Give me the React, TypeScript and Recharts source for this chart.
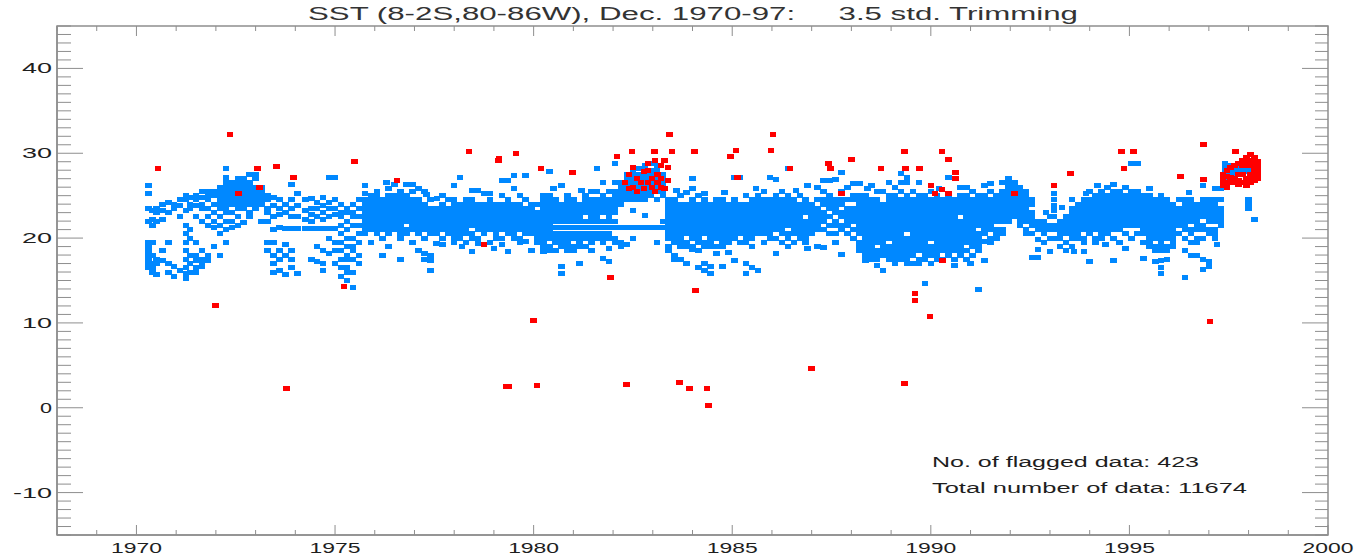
import React from 'react';
import { ScatterChart, Scatter, XAxis, YAxis, ReferenceArea } from 'recharts';

// tick positions (minor every 1, labels on the major ones)
const xTicks = [1968, 1969, 1970, 1971, 1972, 1973, 1974, 1975, 1976, 1977, 1978, 1979, 1980, 1981, 1982, 1983, 1984, 1985, 1986, 1987, 1988, 1989, 1990, 1991, 1992, 1993, 1994, 1995, 1996, 1997, 1998, 1999, 2000];
const xLabels = [1970, 1975, 1980, 1985, 1990, 1995, 2000];
const yTicks = [-15, -14, -13, -12, -11, -10, -9, -8, -7, -6, -5, -4, -3, -2, -1, 0, 1, 2, 3, 4, 5, 6, 7, 8, 9, 10, 11, 12, 13, 14, 15, 16, 17, 18, 19, 20, 21, 22, 23, 24, 25, 26, 27, 28, 29, 30, 31, 32, 33, 34, 35, 36, 37, 38, 39, 40, 41, 42, 43, 44, 45];
const yLabels = [-10, 0, 10, 20, 30, 40];

const blueEarly70s: [number, number[]][] = [
  [1970.30, [26.2, 25.2, 23.5, 22, 19.5, 19, 18.5, 18, 17.5, 17, 16.5]],
  [1970.40, [23.3, 22.2, 21.5, 19.5, 18, 17, 16.5, 16]],
  [1970.50, [23.5, 23, 22, 17.5, 17, 15.7]],
  [1970.65, [24, 23.3, 22.2, 18.5, 17.3]],
  [1970.80, [24.2, 23, 19.5, 17, 16]],
  [1970.95, [24, 23.5, 16.7, 15.5]],
  [1971.10, [24.5, 23.8, 22.5, 16.2]],
  [1971.25, [25, 24.5, 23.3, 21.5, 20.5, 19.5, 18.5, 17.5, 16.5, 15.8, 15.2]],
  [1971.35, [24.8, 24, 23.5, 21, 20, 18, 17, 16]],
  [1971.50, [25, 24.5, 23.8, 22.5, 19.5, 18, 17.3, 16.5, 16]],
  [1971.65, [25.5, 24.8, 24, 23.5, 22, 18.5, 17.5, 17, 16.7]],
  [1971.80, [25.5, 25, 24.5, 23.5, 22.5, 21.5, 18, 17.3]],
  [1971.95, [25.5, 25, 24, 23, 22, 21.2, 19]],
  [1972.10, [26, 25.5, 25, 24.5, 24, 23.5, 22.5, 21.5, 20.5, 18]],
  [1972.25, [28.2, 27.2, 26.5, 26, 25.5, 25, 24.5, 24, 23.5, 23, 22, 21, 19.5]],
  [1972.40, [26.5, 26, 25.5, 25, 24.5, 24, 23, 22, 21.3]],
  [1972.55, [27, 26.5, 26, 25.5, 25, 24.5, 24, 23.5, 22.5, 21.5]],
  [1972.70, [27, 26.5, 26, 25.5, 25, 24.5, 24, 23.5, 21.8]],
  [1972.85, [27.5, 26.5, 26, 25.5, 25, 24.5, 24, 23, 22.5]],
  [1973.00, [27.5, 27, 26, 25.5, 25, 24.5, 24, 23.5]],
  [1973.15, [26, 25.5, 25, 24.5, 24, 22]],
  [1973.30, [25, 24.5, 23.5, 23, 22, 19.5, 18.5]],
  [1973.45, [24.8, 23.8, 22.5, 21, 19.5, 18, 17, 16]],
  [1973.60, [24.5, 23.5, 22.8, 21.2, 18.5, 17.5, 16.2]],
  [1973.75, [24, 23, 21.1, 19.3, 18, 15.7]],
  [1973.90, [26.3, 24.5, 23.5, 22.5, 21.1, 18.5, 17.5, 16.5]],
  [1974.05, [25.2, 23.8, 22.5, 21.1, 15.8]],
  [1974.25, [24.5, 23.2, 22.2, 21.1]],
  [1974.40, [24.7, 23.5, 22.8, 22, 21.1, 17.5]],
  [1974.55, [24.2, 23.5, 22.5, 21.1, 19, 17.2]],
  [1974.70, [24.8, 23.8, 23, 22.2, 21.1, 18.5, 17, 16.2]],
  [1974.85, [27.2, 24.2, 23.5, 22.5, 21.1, 20, 18.2]],
  [1975.00, [27.2, 24.5, 23.5, 22.8, 21.1, 19.5, 18.5, 17]],
  [1975.15, [24, 23, 22.5, 21.5, 20.5, 19.5, 18.5, 17.5, 16.5, 15.5]],
  [1975.30, [23.5, 23, 22, 21, 20, 19, 18, 17.5, 16.5, 16, 15]],
  [1975.45, [24, 23, 22.5, 21.5, 20, 19, 18.5, 17.5, 16, 14.2]],
  [1975.60, [24.5, 23.5, 22.5, 21.5, 20.5, 19.5, 18, 17]],
];

const blueLate70s: [number, number[]][] = [
  [1975.75, [26.2, 25.3, 24.5, 24, 23.5, 23, 22.5, 22, 21.5, 21, 20.5]],
  [1975.90, [25, 24.5, 24, 23.5, 23, 22.5, 22, 21.5, 21, 19.5]],
  [1976.05, [25.5, 25, 24.5, 24, 23.5, 23, 22.5, 22, 21.5, 21, 20.5]],
  [1976.20, [24.5, 24, 23.5, 23, 22.5, 22, 21.5, 21, 20, 18]],
  [1976.35, [25.8, 25, 24.5, 24, 23.5, 23, 22.5, 22, 21.5, 21, 20.5, 19]],
  [1976.50, [26.3, 25, 24.5, 24, 23.5, 23, 22.5, 22, 21.5, 21]],
  [1976.65, [25.5, 25, 24.5, 24, 23.5, 23, 22.5, 22, 21.5, 21, 20.5, 20, 17.5]],
  [1976.80, [26.3, 25, 24.5, 24, 23.5, 23, 22.5, 22, 21, 20.5]],
  [1976.95, [26.3, 25.5, 24.5, 24, 23.5, 23, 22.5, 22, 21.5, 21, 19.5]],
  [1977.10, [25.8, 24.5, 24, 23.5, 23, 22.5, 22, 21.5, 21, 20.5, 18.5]],
  [1977.25, [25.5, 24, 23.5, 23, 22.5, 22, 21.5, 21, 20, 18.2, 17.5]],
  [1977.40, [24.5, 23.5, 23, 22.5, 22, 21.5, 21, 20.5, 18, 17.4, 16.2]],
  [1977.55, [23.5, 23, 22.5, 22, 21.5, 21, 20.5, 19.4]],
  [1977.70, [25, 24, 23.5, 23, 22.5, 22, 21.5, 21, 20]],
  [1977.85, [24.5, 23.5, 23, 22.5, 22, 21.5, 21, 20.5]],
  [1978.00, [26.2, 24.5, 24, 23.5, 23, 22.5, 22, 21.5, 21, 20.5, 20, 19.5]],
  [1978.15, [27.2, 24, 23.5, 23, 22.5, 22, 21.5, 21, 20.5, 20]],
  [1978.30, [24.5, 24, 23.5, 23, 22.5, 22, 21.5, 21, 20.5, 19.5]],
  [1978.45, [25.6, 24.5, 24, 23.5, 23, 22.5, 22, 21.5, 20.5, 20, 18.4]],
  [1978.60, [25.6, 24, 23.5, 23, 22.5, 22, 21.5, 21, 20, 19.4]],
  [1978.75, [25.2, 24, 23.5, 23, 22.5, 22, 21.5, 21, 20.5]],
  [1978.90, [24.5, 24, 23.5, 23, 22.5, 22, 21.5, 21, 19.5]],
  [1979.05, [24, 23.5, 23, 22.5, 22, 21.5, 21, 20.5, 20]],
  [1979.20, [25, 24, 23.5, 23, 22.5, 22, 21.5, 21, 20, 19.2]],
  [1979.35, [26.8, 24.5, 24, 23.5, 23, 22.5, 22, 21.5, 21, 20.5, 18.4]],
  [1979.50, [27.4, 25.8, 24, 23.5, 23, 22.5, 22, 21.5, 21, 20.5, 20]],
  [1979.65, [25, 24, 23.5, 23, 22.5, 22, 21.5, 21, 20, 19.5]],
  [1979.80, [27.4, 24.5, 23.5, 23, 22.5, 22, 21.5, 21, 20.5, 19.6]],
  [1979.95, [24, 23.5, 23, 22.5, 22, 21.5, 21, 20.5, 18.5]],
  [1980.10, [24, 23, 22.5, 22, 21.5, 21, 20.5, 20, 19.5]],
];

const blueEarly80s: [number, number[]][] = [
  [1980.25, [25, 24.5, 24, 23.5, 23, 22.5, 22, 21.5, 21, 20.5, 20, 19.5, 19, 18.4]],
  [1980.40, [27.9, 25, 24.5, 24, 23.5, 23, 22.5, 22, 21.5, 21, 20.5, 20, 19, 18.5]],
  [1980.55, [24.5, 24, 23.5, 23, 22.5, 22, 21.2, 20.5, 20, 19.5, 18.5]],
  [1980.70, [26.2, 24, 23.5, 23, 22.5, 22, 21.2, 20.5, 20, 19.5, 19, 16.6, 15.8]],
  [1980.85, [25, 24.5, 24, 23.5, 23, 22.5, 22, 21.2, 20.5, 20, 19.5, 19, 18.5]],
  [1981.00, [24.5, 24, 23.5, 23, 22.5, 22, 21.2, 20.5, 20, 19, 18.5]],
  [1981.15, [24, 23.5, 23, 22.5, 22, 21.2, 20.5, 20, 19.5, 19, 17]],
  [1981.30, [25, 24.5, 24, 23.5, 23, 22, 21.2, 20.5, 20, 19]],
  [1981.45, [25.5, 24.5, 24, 23.5, 23, 22.5, 22, 21.2, 20.5, 20, 19.5, 18.5]],
  [1981.60, [28.2, 25.5, 24.5, 24, 23.5, 23, 22.5, 22, 21.2, 20.5, 20]],
  [1981.75, [26.5, 25, 24.5, 24, 23.5, 23, 22, 21.2, 20.5, 20, 19.5, 17.6]],
  [1981.90, [25.5, 24.5, 24, 23.5, 23, 22.5, 22, 21.2, 20.5, 20, 18.8, 17.2]],
  [1982.05, [28.8, 26.5, 25.5, 25, 24.5, 24, 23.5, 23, 22, 21.2, 20, 19.5]],
  [1982.20, [26.5, 26, 25.5, 25, 24.5, 24, 21.2, 19.5, 19]],
  [1982.35, [27.5, 27, 26.5, 26, 25.5, 25, 24.5, 21.2, 19.2]],
  [1982.50, [28, 27.5, 27, 26.5, 26, 25.5, 25, 24.5, 23.3, 21.2, 20]],
  [1982.65, [28.2, 27.5, 27, 26.5, 26, 25.5, 25, 24.5, 21.2]],
  [1982.80, [28.5, 28, 27.5, 27, 26.5, 26, 25.5, 25, 24.5, 22.7, 21.2]],
  [1982.95, [28.8, 28, 27.5, 27, 26.5, 26, 25.5, 25, 21.2]],
  [1983.10, [28.5, 28, 27.5, 27, 26.5, 26, 25.5, 24.5, 21.2, 19.5]],
  [1983.25, [27.5, 27, 26.5, 26, 25.5, 25, 22, 21.2]],
  [1983.40, [24.5, 24, 23.5, 23, 22.5, 22, 21.5, 21, 20.5, 20, 19, 18.5]],
  [1983.55, [24.5, 24, 23.5, 23, 22.5, 22, 21.5, 21, 20.5, 20, 19.5, 18, 17.5]],
  [1983.70, [25, 24, 23.5, 23, 22.5, 22, 21.5, 21, 20.5, 20, 19.5, 19, 17.5]],
  [1983.85, [25.4, 24, 23.5, 23, 22.5, 22, 21.5, 21, 20.5, 19.5, 19, 17]],
  [1984.00, [27, 25.8, 24.5, 24, 23.5, 23, 22.5, 22, 21.5, 21, 20.5, 20, 19, 18.6]],
  [1984.15, [25, 24, 23.5, 23, 22.5, 22, 21.5, 21, 20.5, 20, 19.5, 18.5, 16.5]],
  [1984.30, [24.5, 24, 23.5, 23, 22.5, 22, 21.5, 21, 20.5, 19.5, 19, 17, 16.2]],
  [1984.45, [24, 23.5, 23, 22.5, 22, 21.5, 21, 20.5, 20, 19.5, 19, 16.6, 15.8]],
  [1984.60, [24.5, 24, 23.5, 23, 22.5, 22, 21.5, 21, 20.5, 20, 19, 18.2]],
  [1984.75, [24.5, 24, 23.5, 23, 22.5, 22, 21.5, 21, 20.5, 20, 19.5, 19, 16.6]],
  [1984.90, [24, 23.5, 23, 22.5, 22, 21.5, 21, 20.5, 20, 19.5]],
  [1985.05, [27.2, 24.5, 24, 23.5, 23, 22.5, 22, 21.5, 21, 20.5, 20, 17.4]],
  [1985.20, [27.2, 24, 23.5, 23, 22.5, 22, 21.5, 21, 20.5, 19.5]],
];

const blueLate80s: [number, number[]][] = [
  [1985.35, [25, 24, 23.5, 23, 22.5, 22, 21.5, 21, 20.5, 20, 19.5, 17, 15.8]],
  [1985.50, [24.5, 24, 23.5, 23, 22.5, 22, 21.5, 21, 20.5, 20, 19, 16.5]],
  [1985.65, [25, 24.5, 24, 23.5, 23, 22.5, 22, 21.5, 21, 20.5, 16.2]],
  [1985.80, [25.5, 24.5, 24, 23.5, 23, 22.5, 22, 21.5, 21, 20.5, 19.5]],
  [1985.95, [27.2, 24.5, 24, 23.5, 23, 22.5, 22, 21.5, 21, 20.5, 20]],
  [1986.10, [26.9, 25, 24.5, 24, 23.5, 23, 22.5, 22, 21.5, 21, 20, 18.2]],
  [1986.25, [25.5, 24.5, 24, 23.5, 23, 22.5, 22, 21.5, 21, 20.5, 19.5]],
  [1986.40, [28.2, 25, 24.5, 24, 23.5, 23, 22.5, 22, 21.5, 20.5, 20]],
  [1986.55, [24.5, 24, 23.5, 23, 22.5, 22, 21.5, 21, 20.5, 19.5]],
  [1986.70, [25, 24, 23.5, 23, 22.5, 22, 21.5, 21, 20.5, 20]],
  [1986.85, [24.5, 24, 23.5, 23, 22, 21.5, 21, 20.5, 20, 19.5]],
  [1987.00, [24, 23.5, 23, 22.5, 22, 21.5, 21, 20.5]],
  [1987.15, [26, 24.5, 23.5, 23, 22.5, 22, 21.5, 21, 19]],
  [1987.30, [26.8, 25.5, 24.5, 24, 23, 22.5, 22, 21, 18.9]],
  [1987.45, [26.8, 25, 24.5, 24, 23.5, 22.5, 21.5, 20.5]],
  [1987.60, [26.9, 24.5, 24, 23.5, 23, 22, 21.5, 20.5, 19.5]],
  [1987.75, [27.7, 25.5, 24.5, 24, 23, 22.5, 21.5, 21, 18.1]],
  [1987.90, [26, 24.5, 23.5, 23, 22.5, 22, 21.5, 20.5]],
  [1988.05, [26.4, 25, 24.5, 23.5, 23, 22.5, 22, 21, 20]],
  [1988.20, [26.4, 25, 24.5, 24, 23.5, 23, 22.5, 22, 21.5, 21, 20.5, 19.5, 19, 18.5]],
  [1988.35, [25, 24.5, 24, 23.5, 23, 22.5, 22, 21.5, 21, 20.5, 20, 19.5, 19, 18.5, 18, 17.4]],
  [1988.50, [26.2, 24.5, 24, 23.5, 23, 22.5, 22, 21.5, 21, 20.5, 20, 19.5, 19, 18.5, 18, 17.5]],
  [1988.65, [25.5, 24.5, 24, 23.5, 23, 22.5, 22, 21.5, 21, 20.5, 20, 19.5, 18.5, 18, 17.5, 16.8]],
  [1988.80, [25.5, 24, 23.5, 23, 22.5, 22, 21.5, 21, 20.5, 20, 19.5, 19, 18.5, 18, 16.2]],
  [1988.95, [26.5, 25, 24.5, 24, 23.5, 23, 22.5, 22, 21.5, 21, 20.5, 20, 19, 18.5, 18, 17.5]],
  [1989.10, [25, 24.5, 24, 23.5, 23, 22.5, 22, 21.5, 21, 20.5, 20, 19.5, 19, 18.5, 18, 17.5, 17]],
  [1989.25, [27.6, 26.6, 25.5, 24.5, 24, 23.5, 23, 22.5, 22, 21.5, 21, 20.5, 20, 19.5, 19, 18.5, 18, 17.5]],
  [1989.40, [27.2, 26.6, 25, 24.5, 24, 23.5, 23, 22.5, 22, 21.5, 21, 20, 19.5, 19, 18.5, 18, 17.5, 17]],
  [1989.55, [25.5, 24.5, 24, 23.5, 23, 22.5, 22, 21.5, 21, 20.5, 20, 19.5, 19, 18.5, 18, 17]],
  [1989.70, [26.6, 25, 24.5, 24, 23.5, 23, 22.5, 22, 21.5, 21, 20.5, 20, 19.5, 19, 18.5, 17.5, 17]],
  [1989.85, [25, 24.5, 24, 23.5, 23, 22.5, 22, 21.5, 21, 20.5, 20, 19.5, 19, 18.5, 18, 17.5, 14.7]],
  [1990.00, [25.5, 24.5, 24, 23.5, 23, 22.5, 22, 21.5, 21, 20.5, 20, 19, 18.5, 18, 17]],
  [1990.15, [25, 24.5, 24, 23.5, 23, 22.5, 22, 21.5, 21, 20.5, 20, 19.5, 19, 18.5, 18, 17.5]],
  [1990.30, [24.5, 24, 23.5, 23, 22.5, 22, 21.5, 21, 20.5, 20, 19.5, 19, 18.5, 17.5]],
  [1990.45, [27.2, 25, 24.5, 24, 23.5, 23, 22.5, 22, 21.5, 21, 20.5, 20, 19.5, 19, 18.5, 18]],
  [1990.60, [24.5, 24, 23.5, 23, 22.5, 22, 21.5, 21, 20.5, 20, 19.5, 19, 18.5, 17.5]],
  [1990.75, [26, 25, 24.5, 24, 23.5, 23, 22, 21.5, 21, 20.5, 20, 19.5, 19, 18.5, 18]],
  [1990.90, [25, 24.5, 24, 23.5, 23, 22.5, 22, 21.5, 21, 20.5, 20, 19.5, 18.5, 17.5]],
  [1991.05, [25.5, 24.5, 24, 23.5, 23, 22.5, 22, 21.5, 21, 20.5, 20, 19.5, 19, 18]],
  [1991.20, [25, 24.5, 24, 23.5, 23, 22.5, 22, 21.5, 20.5, 20, 19.5, 19, 18.5, 13.9]],
  [1991.35, [26.2, 25, 24.5, 24, 23.5, 23, 22.5, 22, 21.5, 21, 20.5, 19.6, 17.4]],
  [1991.50, [25.5, 24.5, 24, 23.5, 23, 22.5, 22, 21.5, 21, 20, 19.5]],
  [1991.65, [25, 24.5, 24, 23.5, 23, 22.5, 22, 21, 20.5, 20]],
  [1991.80, [26.6, 25.5, 25, 24.5, 24, 23.5, 23, 22.5, 22, 21, 20.5]],
];

const blue90s: [number, number[]][] = [
  [1991.95, [27, 26.5, 26, 25.5, 25, 24.5, 24, 23.5, 23, 22.5, 22]],
  [1992.10, [26.5, 26, 25.5, 25, 24.5, 24, 23.5, 23, 22.5]],
  [1992.25, [26, 25.5, 25, 24.5, 24, 23.5, 23, 22.5, 22, 21.5]],
  [1992.40, [25.5, 25, 24.5, 24, 23.5, 23, 22.5, 22, 21, 20.5]],
  [1992.55, [24.5, 24, 23, 22.5, 22, 21.5, 20.5, 17.7]],
  [1992.70, [22, 21.5, 21, 19.8, 18.6, 17.7]],
  [1992.85, [22, 21.5, 21, 20.5, 19.5]],
  [1993.00, [22.5, 21.5, 21, 20, 18.4]],
  [1993.10, [25.2, 24.5, 23.8, 23.3, 22.5, 21.5, 21, 20]],
  [1993.25, [22, 21.5, 21, 20.5, 20, 19]],
  [1993.40, [22.5, 22, 21.5, 21, 20.5, 19.5, 18.5]],
  [1993.55, [24.5, 23.5, 23, 22.5, 22, 21.5, 21, 20.5, 20, 19]],
  [1993.70, [24, 23.5, 23, 22.5, 22, 21.5, 21, 20.5, 20]],
  [1993.85, [24.5, 24, 23.5, 23, 22.5, 22, 21.5, 21, 20, 19.5, 18.4]],
  [1994.00, [25.5, 24.5, 24, 23.5, 23, 22.5, 22, 21.5, 21, 20.5, 17.2]],
  [1994.15, [25, 24.5, 24, 23.5, 23, 22.5, 22, 21.5, 21, 20, 19.5]],
  [1994.30, [25.5, 25, 24.5, 24, 23.5, 23, 22.5, 22, 21.5, 21, 20.5, 20]],
  [1994.45, [26, 25, 24.5, 24, 23.5, 23, 22.5, 22, 21.5, 21, 20.5]],
  [1994.60, [25.5, 25, 24.5, 24, 23.5, 23, 22.5, 22, 21.5, 21, 20, 17.3]],
  [1994.75, [25.5, 25, 24.5, 24, 23.5, 23, 22.5, 22, 21.5, 21, 19.5]],
  [1994.90, [26, 25, 24.5, 24, 23.5, 23, 22.5, 22, 21.5, 20.5]],
  [1995.05, [28.8, 25.5, 25, 24.5, 24, 23.5, 23, 22.5, 22, 21.5, 20]],
  [1995.20, [28.8, 25.5, 25, 24.5, 24, 23.5, 23, 22.5, 22, 21.5, 20.5]],
  [1995.35, [25, 24.5, 24, 23.5, 23, 22.5, 22, 21.5, 21, 20.5, 19.5, 17.6]],
  [1995.50, [25, 24.5, 24, 23.5, 23, 22.5, 22, 21.5, 21, 20.5, 20, 19.5, 19]],
  [1995.65, [24.5, 24, 23.5, 23, 22.5, 22, 21.5, 21, 20.5, 20, 19, 18.5, 17.2]],
  [1995.80, [25, 24.5, 24, 23.5, 23, 22.5, 22, 21.5, 21, 20.5, 20, 19.5, 19, 18.5, 17.3, 16.5, 15.8]],
  [1995.95, [24.5, 24, 23.5, 23, 22.5, 22, 21.5, 21, 20.5, 20, 19, 18.5, 17.5]],
  [1996.10, [24, 23.5, 23, 22.5, 22, 21.5, 21, 20.5, 20, 19.5, 19]],
  [1996.25, [24.5, 23.5, 23, 22.5, 22, 21.5, 20.5]],
  [1996.40, [24.5, 24, 23.5, 23, 22.5, 22, 21.5, 21, 20, 18.5, 15.3]],
  [1996.55, [24.5, 24, 23.5, 23, 22.5, 22, 21, 20.5, 19.5, 18]],
  [1996.70, [24, 23.5, 23, 22.5, 22, 21.5, 21, 20, 19.5, 18]],
  [1996.85, [26.2, 24.5, 24, 23.5, 23, 22.5, 21.5, 21, 20, 17.5, 16.3]],
  [1997.00, [24.5, 24, 23.5, 23, 22.5, 22, 21, 20.5, 17.2, 16.6]],
  [1997.15, [25.8, 24.5, 24, 23.5, 23, 22.5, 22, 21, 20.5, 20]],
  [1997.30, [25.8, 24.5, 23.5, 23, 22.5, 22, 21.5]],
  [1997.40, [28.8, 28.2, 27.6, 27]],
  [1997.55, [28.5, 28, 27.5]],
  [1997.70, [28.5, 28, 27.5]],
  [1997.85, [28.6, 28, 27.8]],
  [1998.00, [29, 28.2, 27.8, 24.5, 24, 23.5]],
  [1998.15, [28.5, 28, 27.5, 22.2]],
];

// loose blue points along the edges of the cloud
const blueEdges: [number, number][] = [
  [1976.30, 26.5], [1977.30, 25.1], [1977.56, 24.7], [1977.70, 19.3], [1978.20, 19.0],
  [1978.90, 25.3], [1979.00, 18.8], [1979.20, 26.8], [1980.50, 25.8], [1981.20, 25.6],
  [1983.60, 25.6], [1984.30, 25.2], [1984.80, 25.4], [1984.90, 18.3], [1985.60, 25.8],
  [1986.40, 19.0], [1986.60, 25.6], [1986.90, 26.2], [1986.90, 18.8], [1988.40, 25.8],
  [1989.10, 26.0], [1990.20, 25.8], [1990.60, 16.8], [1990.90, 26.0], [1991.00, 17.0],
  [1991.50, 26.4], [1992.90, 23.0], [1993.30, 23.6], [1993.60, 18.4], [1993.90, 25.2],
  [1994.20, 26.2], [1994.40, 19.2], [1994.60, 26.3], [1994.90, 18.8], [1995.50, 25.8],
  [1996.50, 25.4], [1997.20, 19.2],
];

// red = flagged by the 3.5 std trimming
const redOutliers: [number, number][] = [
  [1970.54, 28.2], [1971.99, 12.1], [1972.35, 32.2], [1972.57, 25.2], [1973.05, 28.2],
  [1973.10, 26.0], [1973.53, 28.4], [1973.78, 2.3], [1973.95, 27.2], [1975.23, 14.3],
  [1975.49, 29.0], [1976.56, 26.8], [1978.37, 30.2], [1978.75, 19.3], [1979.11, 29.1],
  [1979.13, 29.4], [1979.30, 2.5], [1979.36, 2.5], [1979.55, 30.0], [1979.99, 10.3],
  [1980.08, 2.6], [1980.18, 28.2], [1980.98, 27.7], [1981.93, 15.4], [1982.10, 29.6],
  [1982.34, 2.7], [1982.47, 30.2], [1983.04, 30.2], [1983.30, 29.2], [1983.42, 32.2],
  [1983.48, 30.2], [1983.67, 3.0], [1983.92, 2.3], [1984.05, 30.2], [1984.08, 13.8],
  [1984.36, 2.3], [1984.40, 0.25], [1984.95, 29.6], [1985.10, 30.3], [1985.13, 27.2],
  [1985.97, 30.3], [1986.03, 32.2], [1986.45, 28.2], [1987.00, 4.6], [1987.42, 28.8],
  [1987.47, 28.2], [1987.75, 25.2], [1988.00, 29.3], [1988.75, 28.2], [1989.33, 2.8],
  [1989.33, 30.2], [1989.36, 28.2], [1989.60, 13.5], [1989.60, 12.7], [1989.71, 28.2],
  [1989.98, 10.8], [1990.00, 26.2], [1990.10, 25.3], [1990.28, 30.2], [1990.28, 25.7],
  [1990.29, 17.3], [1990.45, 29.3], [1990.45, 25.2], [1990.62, 27.7], [1990.62, 27.0],
  [1992.10, 25.2], [1993.10, 26.2], [1993.52, 27.6], [1994.80, 30.2], [1994.86, 28.2],
  [1995.10, 30.2], [1996.29, 27.3], [1996.87, 31.0], [1996.87, 26.9], [1997.03, 10.2],
  [1997.67, 30.2],
];

const redCluster1983: [number, number[]][] = [
  [1982.30, [26.5]],
  [1982.40, [27.5, 25.8]],
  [1982.50, [28.3, 26]],
  [1982.60, [27, 25.5]],
  [1982.70, [26.5]],
  [1982.78, [27.8, 25.8]],
  [1982.88, [28.8, 28, 26.5]],
  [1982.98, [27, 26]],
  [1983.05, [29.2, 25.5]],
  [1983.12, [27.5, 26.5]],
  [1983.20, [28.5, 27, 26]],
  [1983.30, [25.8]],
  [1983.38, [28.3, 26.8]],
];

const redCluster1998: [number, number[]][] = [
  [1997.35, [27.5, 27, 26.5, 26.2]],
  [1997.45, [28, 27.3, 26.5, 26]],
  [1997.55, [28.3, 27.2, 26.6]],
  [1997.65, [28.5, 27, 26.5]],
  [1997.75, [28.8, 27.5, 26.8, 26.3]],
  [1997.85, [29.2, 28.5, 27.5, 26.5]],
  [1997.95, [29.5, 29, 28.5, 27, 26.5, 26.2]],
  [1998.05, [29.8, 29.2, 28.5, 27.5, 27, 26.5]],
  [1998.15, [29.5, 29, 28.3, 27.8, 27.2, 26.8]],
  [1998.22, [29, 28.5, 28, 27.5, 27]],
];

const flaggedCount = 423;
const totalCount = 11674;

const fromColumns = (cols: [number, number[]][]) =>
  cols.flatMap(([x, ys]) => ys.map((y) => ({ x, y })));

const blueData = [
  ...fromColumns(blueEarly70s),
  ...fromColumns(blueLate70s),
  ...fromColumns(blueEarly80s),
  ...fromColumns(blueLate80s),
  ...fromColumns(blue90s),
  ...blueEdges.map(([x, y]) => ({ x, y })),
];
const redData = [
  ...redOutliers.map(([x, y]) => ({ x, y })),
  ...fromColumns(redCluster1983),
  ...fromColumns(redCluster1998),
];

const W = 1359;
const H = 558;
const MARGIN = { top: 26, right: 31, bottom: 3, left: 7 };
const PLOT_W = 1271;
const PLOT_H = 509;
const AXIS_COLOR = '#8e8e8e';
const TEXT_COLOR = '#1e1e1e';
const FONT = '"Liberation Sans", Arial, sans-serif';

const Square = (props: any) => {
  const { cx, cy, fill } = props;
  if (cx == null || cy == null) return null;
  return <rect x={cx - 3.2} y={cy - 2.5} width={6.5} height={5} fill={fill} shapeRendering="crispEdges" />;
};

const XTick = (props: any) => {
  const { x, y, payload } = props;
  const axisY = y - 8;
  const major = xLabels.includes(payload.value);
  const len = major ? 10 : 5;
  return (
    <g>
      <line x1={x} x2={x} y1={axisY} y2={axisY - len} stroke={AXIS_COLOR} />
      <line x1={x} x2={x} y1={axisY - PLOT_H} y2={axisY - PLOT_H + len} stroke={AXIS_COLOR} />
      {major && (
        <text x={x} y={axisY + 18} textAnchor="middle" fontSize={14} fontFamily={FONT} fill={TEXT_COLOR}
          textLength={51} lengthAdjust="spacingAndGlyphs">
          {payload.value}
        </text>
      )}
    </g>
  );
};

const YTick = (props: any) => {
  const { x, y, payload } = props;
  const axisX = x + 5;
  const major = yLabels.includes(payload.value);
  const lenL = major ? 26 : 14;
  const lenR = major ? 26 : 13;
  const label = String(payload.value);
  const textLen = label.length === 1 ? 12 : label.length === 2 ? 30 : 39;
  return (
    <g>
      <line x1={axisX} x2={axisX + lenL} y1={y} y2={y} stroke={AXIS_COLOR} />
      <line x1={axisX + PLOT_W} x2={axisX + PLOT_W - lenR} y1={y} y2={y} stroke={AXIS_COLOR} />
      {major && (
        <text x={x} y={y + 5} textAnchor="end" fontSize={14} fontFamily={FONT} fill={TEXT_COLOR}
          textLength={textLen} lengthAdjust="spacingAndGlyphs">
          {label}
        </text>
      )}
    </g>
  );
};

export default function App() {
  return (
    <div style={{ position: 'absolute', left: 0, top: 0, width: W, height: H, background: '#fff' }}>
      <ScatterChart width={W} height={H} margin={MARGIN}>
        <XAxis type="number" dataKey="x" domain={[1968, 2000]} ticks={xTicks} interval={0}
          tickSize={0} tickMargin={8} tickLine={false} height={20}
          axisLine={{ stroke: AXIS_COLOR, strokeWidth: 1.5 }} tick={XTick} allowDataOverflow />
        <YAxis type="number" dataKey="y" domain={[-15, 45]} ticks={yTicks} interval={0}
          tickSize={0} tickMargin={5} tickLine={false} width={50}
          axisLine={{ stroke: AXIS_COLOR, strokeWidth: 1.5 }} tick={YTick} allowDataOverflow />
        <ReferenceArea x1={1968} x2={2000} y1={-15} y2={45} fill="none" stroke={AXIS_COLOR} strokeWidth={1.5} />
        <Scatter data={blueData} fill="#0088ff" shape={Square} isAnimationActive={false} />
        <Scatter data={redData} fill="#ff0000" shape={Square} isAnimationActive={false} />
      </ScatterChart>
      <svg width={W} height={H} style={{ position: 'absolute', left: 0, top: 0, pointerEvents: 'none' }}>
        <text x={308} y={20} fontSize={18} fontFamily={FONT} fill="#333" xmlSpace="preserve"
          style={{ whiteSpace: 'pre' }} textLength={770} lengthAdjust="spacingAndGlyphs">
          {'SST (8-2S,80-86W), Dec. 1970-97:     3.5 std. Trimming'}
        </text>
        <text x={932} y={467} fontSize={14} fontFamily={FONT} fill={TEXT_COLOR}
          textLength={267} lengthAdjust="spacingAndGlyphs">
          {`No. of flagged data: ${flaggedCount}`}
        </text>
        <text x={932} y={493} fontSize={14} fontFamily={FONT} fill={TEXT_COLOR}
          textLength={315} lengthAdjust="spacingAndGlyphs">
          {`Total number of data: ${totalCount}`}
        </text>
      </svg>
    </div>
  );
}
